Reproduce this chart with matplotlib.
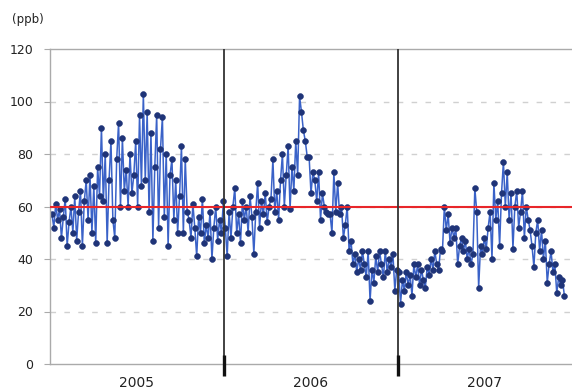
import matplotlib
matplotlib.use("Agg")
import matplotlib.pyplot as plt
import matplotlib.dates as mdates
import pandas as pd
import numpy as np

# Ozone-like concentration (ppb), one reading every 4 days, fiscal years (Apr-Mar)
fy2005 = [57, 52, 61, 55, 59, 48, 56, 63, 45, 54,
          60, 50, 64, 47, 58, 66, 45, 62, 70, 55,
          72, 50, 68, 46, 75, 64, 90, 62, 80, 46,
          70, 85, 55, 48, 78, 92, 60, 86, 66, 74,
          60, 80, 65, 72, 85, 60, 95, 68, 103, 70,
          96, 58, 88, 47, 75, 95, 52, 82, 94, 56,
          80, 45, 72, 78, 55, 70, 50, 64, 83, 50,
          78, 58, 55, 48, 61, 52, 41, 56, 50, 63,
          46, 53, 48, 58, 40, 52, 60, 47, 55, 50, 62]
fy2006 = [52, 41, 58, 48, 60, 67, 50, 57, 46, 62,
          55, 60, 50, 64, 56, 42, 58, 69, 52, 62,
          57, 65, 54, 60, 63, 78, 58, 66, 55, 70,
          80, 60, 72, 83, 59, 75, 66, 85, 72, 102,
          96, 89, 85, 79, 79, 65, 73, 70, 62, 73,
          55, 65, 60, 58, 57, 57, 50, 73, 58, 69,
          57, 60, 48, 53, 60, 43, 47, 38, 42, 35,
          40, 36, 43, 38, 33, 43, 24, 36, 31, 41,
          35, 43, 38, 33, 43, 35, 40, 37, 42, 28, 36]
fy2007 = [35, 23, 32, 28, 35, 30, 34, 26, 38, 33,
          38, 30, 36, 32, 29, 37, 34, 40, 36, 43,
          38, 36, 44, 43, 60, 51, 57, 46, 52, 48,
          52, 38, 45, 48, 43, 47, 40, 44, 38, 42,
          67, 58, 29, 45, 42, 48, 44, 52, 58, 40,
          69, 55, 62, 45, 65, 77, 60, 73, 55, 65,
          44, 60, 66, 52, 58, 66, 48, 60, 55, 51,
          45, 37, 50, 55, 43, 51, 40, 47, 31, 38,
          43, 35, 38, 27, 33, 30, 32, 26]
year_labels = ["2005", "2006", "2007"]
standard = 60
y_ticks = [0, 20, 40, 60, 80, 100, 120]

values = fy2005 + fy2006 + fy2007
dates = mdates.date2num(pd.date_range("2005-04-05", periods=len(values), freq="4D").to_pydatetime())
year_starts = mdates.date2num(pd.to_datetime(["2005-04-01", "2006-04-01", "2007-04-01", "2008-04-01"]).to_pydatetime())

fig = plt.figure(figsize=(5.72, 3.90), dpi=100)
ax = fig.add_axes([50/572, 1 - 364/390, 1 - 50/572, (364 - 49)/390])

ax.set_xlim(year_starts[0], year_starts[-1])
ax.set_ylim(0, 120)

# faint dashed grid
ax.hlines(y_ticks[1:-1], year_starts[0], year_starts[-1], colors="#d0d0d0",
          linewidths=1.0, linestyles=(0, (4, 6)), zorder=0)

ax.plot(dates, values, color="#3a62c8", lw=1.1, zorder=2,
        marker="o", markersize=4.2, markerfacecolor="#1f3478",
        markeredgecolor="#1f3478", markeredgewidth=0.4)

ax.axhline(standard, color="#e8262a", lw=1.5, zorder=3)

# year separators
ax.vlines(year_starts[1:3], 0, 120, colors="#333333", linewidths=1.3, zorder=6)
ax.vlines(year_starts[1:3], -4.5, 3.5, colors="#111111", linewidths=2.4, zorder=7, clip_on=False)

ax.set_yticks(y_ticks)
ax.set_yticklabels([str(v) for v in y_ticks], fontsize=9, color="#222222")
ax.tick_params(axis="y", length=4, color="#aaaaaa", pad=8)
ax.set_xticks([])

for i, lab in enumerate(year_labels):
    mid = (year_starts[i] + year_starts[i + 1]) / 2
    ax.text(mid, -4.5, lab, ha="center", va="top", fontsize=10, color="#222222")

for s in ["left", "bottom", "top"]:
    ax.spines[s].set_color("#aaaaaa")
    ax.spines[s].set_linewidth(1.0)
ax.spines["right"].set_visible(False)

fig.text(12/572, 1 - 20/390, "(ppb)", fontsize=8.5, color="#222222", ha="left", va="center")

fig.savefig("out.png", dpi=100)
